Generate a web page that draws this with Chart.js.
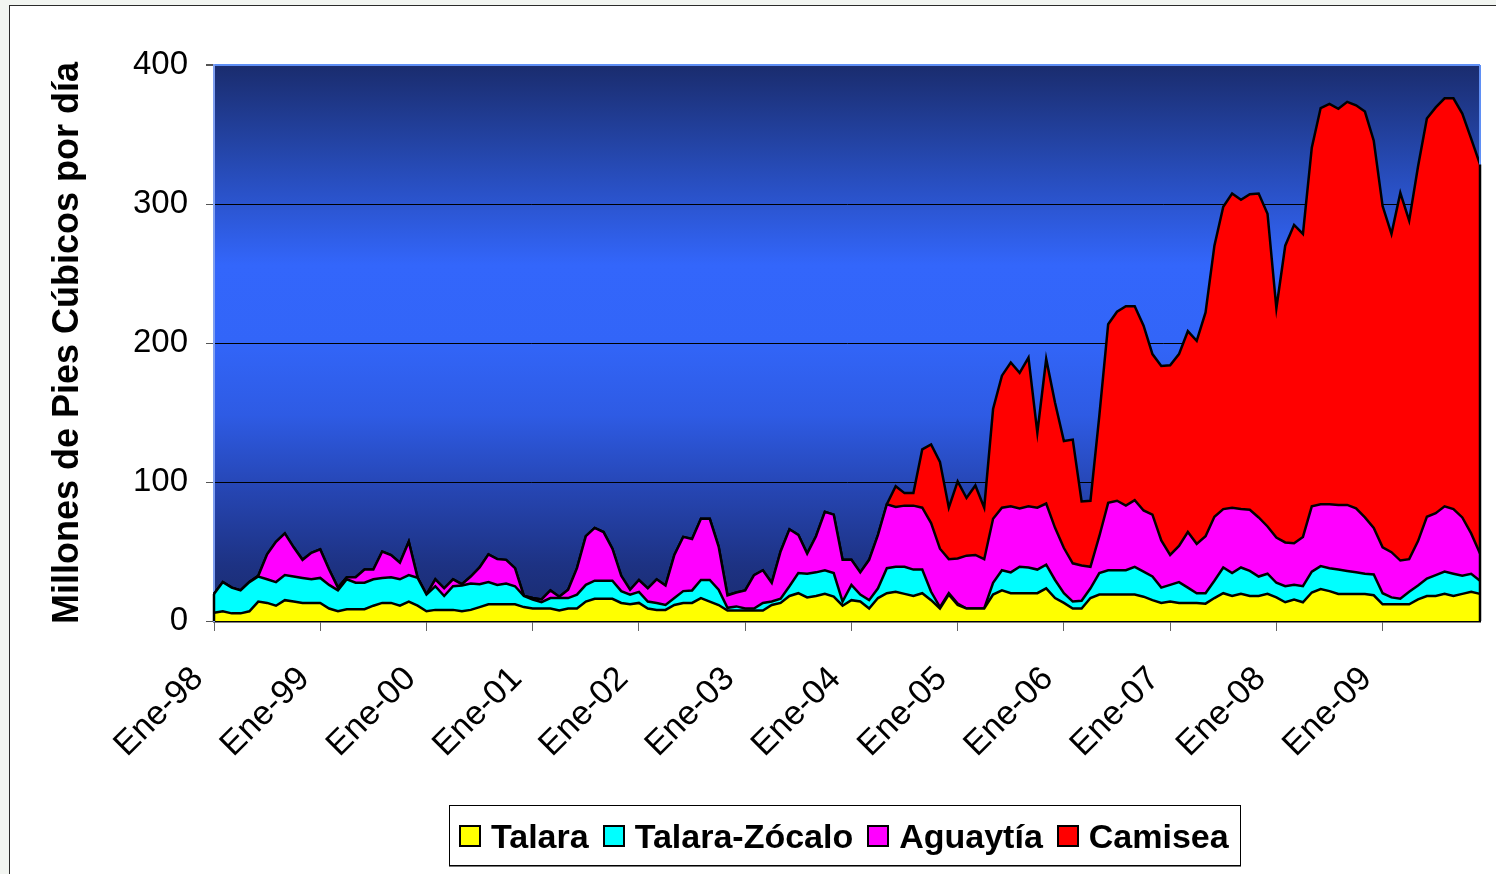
<!DOCTYPE html>
<html>
<head>
<meta charset="utf-8">
<script src="https://cdn.jsdelivr.net/npm/chart.js@4.4.1/dist/chart.umd.min.js"></script>
<style>
  html, body { margin: 0; padding: 0; background: #f2f5f1; overflow: hidden; }
  #frame { position: absolute; left: 9px; top: 5px; width: 1600px; height: 1000px; background: #fff;
           border-left: 1px solid #2b2b2b; border-top: 1px solid #2b2b2b; }
  #chart { position: absolute; left: 0; top: 0; }
  #legend { position: absolute; left: 449px; top: 805px; width: 792px; height: 61px; box-sizing: border-box;
            border: 1px solid #000; box-shadow: 0 1px 0 #777; background: #fff; display: flex; align-items: center;
            padding-left: 9px; font: bold 34px "Liberation Sans", Arial, sans-serif; color: #000;
            white-space: nowrap; overflow: hidden; }
  #legend .box { flex: 0 0 auto; width: 22px; height: 22px; box-sizing: border-box; border: 2px solid #000; margin-right: 10px; }
  #legend .txt { flex: 0 0 auto; margin-right: 14px; line-height: 1; }
</style>
</head>
<body>
<div id="frame"></div>
<canvas id="chart" width="1496" height="874"></canvas>
<div id="legend"></div>
<script>
// meses y años de la serie (Ene-98 a Dic-09)
const meses = ["Ene", "Feb", "Mar", "Abr", "May", "Jun", "Jul", "Ago", "Sep", "Oct", "Nov", "Dic"];
const anios = ["98", "99", "00", "01", "02", "03", "04", "05", "06", "07", "08", "09"];
const categorias = [];
anios.forEach(a => meses.forEach(m => categorias.push(m + "-" + a)));

const yTicks = [0, 100, 200, 300, 400];

// millones de pies cúbicos por día, una fila por año
const talara = [
  6, 7, 5.5, 5.5, 7, 14, 13, 11, 15, 14, 13, 13,
  13, 9, 7, 8.5, 8.5, 8.5, 11, 13, 13, 11, 14, 11,
  7, 8, 8, 8, 7, 8, 10, 12, 12, 12, 12, 10,
  9, 9, 9, 7.5, 9, 9, 14, 16, 16, 16, 13, 12,
  13, 9, 8, 8, 11.5, 13, 13, 16.5, 14, 11.5, 7.5, 7.5,
  7.5, 7.5, 7.5, 11.5, 13, 18, 20, 17, 18, 19.5, 17.5, 11,
  15, 14, 9, 16.5, 20, 21, 19.5, 18, 20, 15, 9, 19,
  11.5, 9, 9, 9, 19, 22, 20, 20, 20, 20, 23.5, 16.5,
  13, 9, 9, 16.5, 19, 19, 19, 19, 19, 17.5, 15, 13,
  14, 13, 13, 13, 12.5, 16.5, 20, 18, 19.5, 18, 18, 19.5,
  17, 13.5, 15.5, 13.5, 20.5, 23, 21.5, 19.5, 19.5, 19.5, 19.5, 18.5,
  12, 12, 12, 12, 15.5, 18, 18, 19.5, 18, 19.5, 21, 19.5
];
const talaraZocalo = [
  13.5, 21, 18.5, 16.5, 21, 18, 17, 17, 18, 18, 18, 17,
  18, 17, 15, 21.5, 19, 19, 19, 18, 18.5, 19, 19, 20,
  12, 17, 10, 17, 18.5, 19, 16.5, 16, 14, 15, 13, 8,
  6.5, 4.5, 7.5, 9, 7.5, 10, 12, 13, 13, 13, 8.5, 7,
  8, 5, 5, 3.5, 5, 8.5, 9, 13, 15.5, 11, 2, 3,
  1.5, 1.5, 5.5, 2.5, 3, 7, 14.5, 17, 17, 17, 17, 3,
  11, 5, 6, 7, 18, 18, 19.5, 19, 17, 6, 1, 1,
  1, 0, 0, 0, 8.5, 14.5, 15, 19, 18.5, 17, 17, 13,
  7, 5, 5.5, 7, 15.5, 17.5, 17.5, 17.5, 20, 18, 17, 11,
  12, 15, 11, 7, 7.5, 12.5, 18.5, 16.5, 19, 18, 14, 14.5,
  10.5, 11.5, 10.5, 11.5, 15, 16.5, 16.5, 17.5, 16.5, 15.5, 14.5, 15,
  8, 5, 4, 9, 10, 12.5, 15, 16, 16, 13, 13, 9.5
];
const aguaytia = [
  0, 0, 0, 0, 0, 0.5, 18, 29, 30, 21, 13, 19,
  20.5, 11, 2, 1.5, 4, 9.5, 7, 19, 16, 12, 24, 0,
  0, 5, 5.5, 5, 1, 5, 12, 20, 18.5, 17, 13, 0,
  1, 2, 5.5, 1, 6, 19, 35, 38, 35, 23, 11, 3.5,
  8.5, 9.5, 17, 14, 31, 39, 37, 44, 44, 31, 9, 10,
  13, 24, 23.5, 13.5, 34, 41, 27.5, 14.5, 26, 42, 42, 30,
  18, 16, 29, 38.5, 46, 43, 44, 46, 44.5, 49.5, 42, 24.5,
  32.5, 38, 38.5, 35.5, 46, 45, 47.5, 42, 44, 44.5, 44, 37.5,
  32.5, 27.5, 25.5, 15.5, 26.5, 48.5, 50, 46.5, 48, 44, 44.5, 34,
  21.5, 26, 40, 35.5, 41, 46, 42, 47, 42, 44, 42.5, 34,
  32.5, 31.5, 30, 35.5, 47, 44.5, 46, 46.5, 47.5, 46, 40.5, 33.5,
  33, 32.5, 27.5, 23.5, 32, 44.5, 44.5, 47, 46.5, 42, 29, 19.5
];
const camisea = [
  0, 0, 0, 0, 0, 0, 0, 0, 0, 0, 0, 0,
  0, 0, 0, 0, 0, 0, 0, 0, 0, 0, 0, 0,
  0, 0, 0, 0, 0, 0, 0, 0, 0, 0, 0, 0,
  0, 0, 0, 0, 0, 0, 0, 0, 0, 0, 0, 0,
  0, 0, 0, 0, 0, 0, 0, 0, 0, 0, 0, 0,
  0, 0, 0, 0, 0, 0, 0, 0, 0, 0, 0, 0,
  0, 0, 0, 0, 0, 15, 9, 9, 42, 56.5, 62.5, 37,
  55.5, 41.5, 50, 37, 79, 95, 103.5, 97.5, 107, 54, 104, 90,
  77, 89, 46, 47.5, 86.5, 128.5, 136, 143.5, 139.5, 133, 115.5, 125.5,
  136.5, 138, 144.5, 146, 161, 195, 217.5, 226, 222.5, 227, 233, 225,
  165, 213.5, 229, 218, 258, 285, 288, 285, 290, 290, 292, 278.5,
  245.5, 229, 264.5, 243.5, 269.5, 286.5, 292, 293.5, 295.5, 290.5, 284, 280
];

const series = [
  { label: "Talara", data: talara, color: "#ffff00" },
  { label: "Talara-Zócalo", data: talaraZocalo, color: "#00ffff" },
  { label: "Aguaytía", data: aguaytia, color: "#ff00ff" },
  { label: "Camisea", data: camisea, color: "#ff0000" }
];

const FONT = "'Liberation Sans', Arial, sans-serif";
Chart.defaults.font.family = FONT;
Chart.defaults.color = "#000";

// fondo degradado del área de trazado
const fondo = {
  id: "fondo",
  beforeDraw(chart) {
    const { ctx, chartArea: a } = chart;
    const g = ctx.createLinearGradient(0, a.top, 0, a.bottom);
    g.addColorStop(0, "#1a2c6e");
    g.addColorStop(0.15, "#2445a8");
    g.addColorStop(0.36, "#3366fb");
    g.addColorStop(0.5, "#3265f8");
    g.addColorStop(0.63, "#2e5be4");
    g.addColorStop(0.76, "#2646b4");
    g.addColorStop(0.9, "#1d3283");
    g.addColorStop(1, "#1a2b6d");
    ctx.save();
    ctx.fillStyle = g;
    ctx.fillRect(a.left, a.top, a.right - a.left, a.bottom - a.top);
    ctx.restore();
  },
  afterDatasetsDraw(chart) {
    // bordes verticales de las áreas en los extremos, y borde derecho
    const { ctx, chartArea: a, scales: { x, y } } = chart;
    const n = categorias.length - 1;
    const total = i => series.reduce((s, d) => s + d.data[i], 0);
    ctx.save();
    ctx.strokeStyle = "#5f8ff5";
    ctx.lineWidth = 2;
    ctx.beginPath();
    ctx.moveTo(a.right, a.top);
    ctx.lineTo(a.right, a.bottom);
    ctx.stroke();
    ctx.strokeStyle = "#000";
    ctx.lineWidth = 2.5;
    [0, n].forEach(i => {
      ctx.beginPath();
      ctx.moveTo(x.getPixelForValue(i), y.getPixelForValue(0));
      ctx.lineTo(x.getPixelForValue(i), y.getPixelForValue(total(i)));
      ctx.stroke();
    });
    ctx.restore();
  }
};

new Chart(document.getElementById("chart"), {
  type: "line",
  data: {
    labels: categorias,
    datasets: series.map((s, i) => ({
      label: s.label,
      data: s.data,
      backgroundColor: s.color,
      borderColor: "#000",
      borderWidth: 2.5,
      pointRadius: 0,
      tension: 0,
      fill: i === 0 ? "origin" : "-1"
    }))
  },
  options: {
    responsive: false,
    animation: false,
    devicePixelRatio: 1,
    layout: { padding: { top: 65, right: 16, left: 0, bottom: 83 } },
    plugins: { legend: { display: false }, tooltip: { enabled: false } },
    scales: {
      x: {
        type: "category",
        offset: false,
        afterFit(scale) {
          scale.height = 170;
          scale.paddingRight = 0;
          scale.paddingLeft = 0;
        },
        grid: {
          drawOnChartArea: false,
          drawTicks: true,
          tickLength: 10,
          tickColor: ctx => (ctx.index % 12 === 0 ? "#666" : "rgba(0,0,0,0)")
        },
        border: { color: "#000", width: 2.5 },
        ticks: {
          autoSkip: false,
          minRotation: 45,
          maxRotation: 45,
          padding: 28,
          labelOffset: -16,
          font: { size: 34 },
          callback(value, index) {
            return index % 12 === 0 ? this.getLabelForValue(value) : "";
          }
        }
      },
      y: {
        stacked: true,
        min: yTicks[0],
        max: yTicks[yTicks.length - 1],
        afterFit(scale) { scale.width = 214; },
        afterBuildTicks(scale) { scale.ticks = yTicks.map(v => ({ value: v })); },
        grid: {
          color: ctx => (ctx.tick && ctx.tick.value === 400 ? "#5f8ff5" : "#000"),
          lineWidth: ctx => (ctx.tick && ctx.tick.value === 400 ? 2 : 1),
          tickColor: "#555",
          tickLength: 8
        },
        border: { color: "#7f9ff0", width: 2 },
        ticks: { padding: 18, font: { size: 33 } },
        title: {
          display: true,
          text: "Millones de Pies Cúbicos por día",
          font: { size: 36, weight: "bold" },
          padding: { top: 46, bottom: 0 }
        }
      }
    }
  },
  plugins: [fondo]
});

// leyenda
const leyenda = document.getElementById("legend");
series.forEach(s => {
  const b = document.createElement("span");
  b.className = "box";
  b.style.background = s.color;
  const t = document.createElement("span");
  t.className = "txt";
  t.textContent = s.label;
  leyenda.appendChild(b);
  leyenda.appendChild(t);
});
</script>
</body>
</html>
